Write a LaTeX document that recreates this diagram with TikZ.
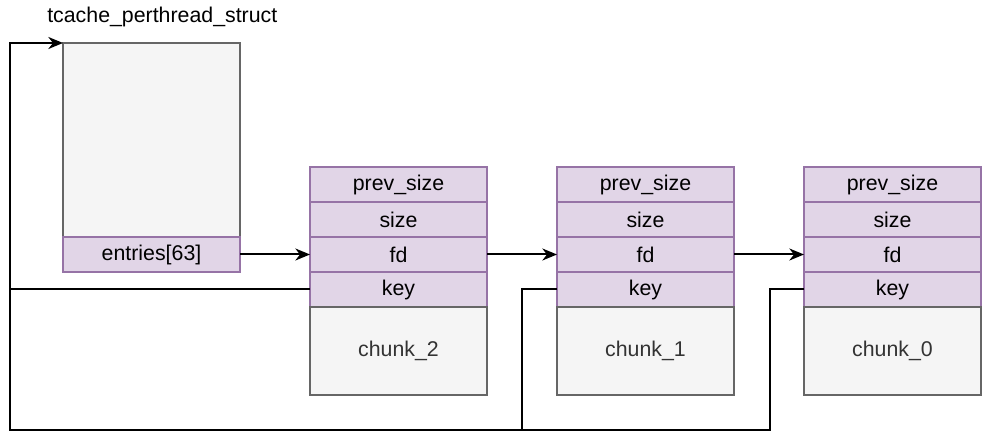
\documentclass[tikz,border=0pt]{standalone}
\usepackage{fontspec}
\setmainfont{Liberation Sans}
\usetikzlibrary{arrows.meta}
\definecolor{pfill}{HTML}{E1D5E7}
\definecolor{pline}{HTML}{9673A6}
\definecolor{gfill}{HTML}{F5F5F5}
\definecolor{gline}{HTML}{666666}
\definecolor{gtext}{HTML}{333333}
\tikzset{
  cell/.style={draw=pline, fill=pfill, line width=1.1pt, minimum width=132.75pt, minimum height=26.25pt, inner sep=0pt, outer sep=0pt, font=\fontsize{16pt}{18pt}\selectfont, text=black},
  body/.style={draw=gline, fill=gfill, line width=1.1pt, minimum width=132.75pt, inner sep=0pt, outer sep=0pt, font=\fontsize{16pt}{18pt}\selectfont, text=gtext},
  conn/.style={line width=1.5pt, black},
  arr/.style={conn, -{Stealth[length=11pt, width=9pt, inset=3.5pt]}},
  title/.style={font=\fontsize{16pt}{18pt}\selectfont, inner sep=0pt, anchor=west}
}
\begin{document}
\begin{tikzpicture}[x=0.75pt, y=-0.75pt]
\useasboundingbox (0,0) rectangle (997,448);
\node[title] (ttl) at (47,17) {tcache\_perthread\_struct};
\node[body, minimum height=145.5pt] (tc) at (151.5,140) {};
\node[cell] (ent) at (151.5,254.5) {entries[63]};
% chunk_2
\node[cell] (c2p) at (398.5,184.5) {prev\_size};
\node[cell] (c2s) at (398.5,219.5) {size};
\node[cell] (c2f) at (398.5,254.5) {fd};
\node[cell] (c2k) at (398.5,289.5) {key};
\node[body, minimum height=66pt] (c2b) at (398.5,351) {chunk\_2};
% chunk_1
\node[cell] (c1p) at (645.5,184.5) {prev\_size};
\node[cell] (c1s) at (645.5,219.5) {size};
\node[cell] (c1f) at (645.5,254.5) {fd};
\node[cell] (c1k) at (645.5,289.5) {key};
\node[body, minimum height=66pt] (c1b) at (645.5,351) {chunk\_1};
% chunk_0
\node[cell] (c0p) at (892.5,184.5) {prev\_size};
\node[cell] (c0s) at (892.5,219.5) {size};
\node[cell] (c0f) at (892.5,254.5) {fd};
\node[cell] (c0k) at (892.5,289.5) {key};
\node[body, minimum height=66pt] (c0b) at (892.5,351) {chunk\_0};
% coordinates
\coordinate (lt) at (10,43);
\coordinate (lb) at (10,430);
% fd links
\draw[arr] (ent.east) -- (c2f.west);
\draw[arr] (c2f.east) -- (c1f.west);
\draw[arr] (c1f.east) -- (c0f.west);
% key links
\draw[conn] (c1k.west) -- ++(-35,0) |- (lb) -- (lt);
\draw[conn] (c0k.west) -- ++(-34,0) |- (lb);
\draw[arr] (c2k.west) -| (lt) -- (tc.north west);
\end{tikzpicture}
\end{document}
